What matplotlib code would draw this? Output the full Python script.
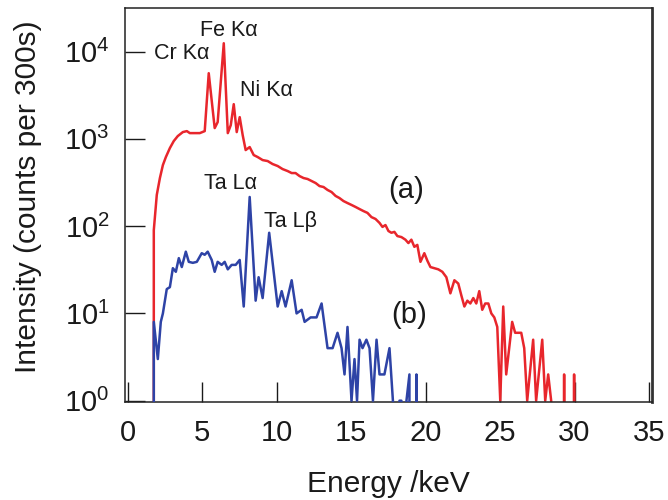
import matplotlib
matplotlib.use("Agg")
import matplotlib.pyplot as plt
from matplotlib.ticker import FixedLocator, NullLocator, LogFormatterSciNotation

plt.rcParams['font.family'] = ['Liberation Sans', 'DejaVu Sans']
plt.rcParams['mathtext.default'] = 'regular'

# (a) spectrum, energy in keV and counts per 300 s
red_energy = [1.54, 1.74, 1.94, 2.15, 2.35, 2.55, 2.82, 3.08, 3.35, 3.69, 3.96, 4.16, 4.49, 4.83,
              5.16, 5.43, 5.83, 6.03, 6.44, 6.71, 6.91, 7.11, 7.31, 7.51, 7.71, 7.91, 8.18, 8.45,
              8.72, 9.05, 9.39, 9.72, 10.06, 10.39, 10.73, 11.00, 11.26, 11.53, 11.80, 12.07, 12.34,
              12.61, 12.87, 13.14, 13.41, 13.68, 13.95, 14.21, 14.48, 14.75, 15.02, 15.29, 15.56,
              15.82, 16.09, 16.36, 16.63, 16.90, 17.10, 17.30, 17.50, 17.70, 17.90, 18.10, 18.37,
              18.64, 18.84, 19.04, 19.24, 19.44, 19.65, 19.91, 20.12, 20.32, 20.58, 20.85, 21.12,
              21.39, 21.66, 21.93, 22.19, 22.40, 22.60, 22.80, 23.00, 23.20, 23.40, 23.60, 23.80,
              24.00, 24.21, 24.41, 24.61, 24.81, 25.01, 25.21, 25.41, 25.81, 26.01, 26.22, 26.42,
              26.62, 26.82, 27.22, 27.42, 27.83, 28.03, 28.23, 28.43, 28.63, 29.10, 29.30, 29.50,
              29.77, 29.97, 30.17]
red_counts = [0, 90, 228, 356, 501, 619, 785, 944, 1077, 1197, 1228, 1165, 1165, 1165,
              1228, 5660, 1330, 1557, 12480, 1165, 1439, 2500, 1197, 1775, 1105, 745, 806, 653,
              619, 572, 557, 515, 489, 451, 428, 406, 406, 375, 356, 347, 329,
              312, 288, 281, 260, 246, 222, 210, 194, 184, 175, 166, 157,
              149, 142, 127, 121, 109, 98, 103, 88, 84, 86, 77, 75,
              70, 64, 70, 58, 61, 39, 49, 40, 34, 33, 32, 30,
              26, 17, 24, 22, 16, 12, 14, 13, 15, 13, 18, 11,
              13, 13, 10, 9, 7, 1, 12, 2, 8, 6, 6, 6,
              4, 1, 5, 1, 5, 1, 2, 1, 0, 0, 2, 0,
              0, 2, 0]

# (b) spectrum
blue_energy = [1.61, 1.74, 2.01, 2.21, 2.35, 2.61, 2.82, 3.02, 3.22, 3.42, 3.62, 3.89, 4.09, 4.36,
               4.63, 4.96, 5.16, 5.36, 5.63, 5.83, 6.03, 6.30, 6.50, 6.71, 6.97, 7.24, 7.51, 7.78,
               8.18, 8.58, 8.78, 9.05, 9.49, 10.06, 10.33, 10.59, 11.00, 11.33, 11.67, 11.87, 12.27,
               12.67, 13.01, 13.41, 13.75, 14.08, 14.35, 14.55, 14.75, 15.02, 15.22, 15.39, 15.56,
               15.76, 16.02, 16.23, 16.46, 16.70, 16.90, 17.23, 17.57, 17.80, 18.00, 18.24, 18.37,
               18.55, 18.71, 18.91, 19.11, 19.38, 19.58]
blue_counts = [0, 8, 3, 8, 10, 19, 20, 33, 30, 43, 34, 51, 39, 38,
               39, 49, 47, 51, 41, 30, 39, 36, 39, 32, 36, 36, 41, 12,
               216, 14, 26, 15, 84, 12, 18, 12, 24, 10, 11, 8, 9,
               9, 13, 4, 4, 6, 4, 2, 7, 1, 3, 1, 5,
               4, 5, 4, 1, 5, 2, 2, 4, 1, 0, 1, 1,
               0, 1, 2, 0, 2, 0]

# peak labels: text, energy, counts
peak_labels = [("Cr K\u03b1", 3.62, 9590), ("Fe K\u03b1", 6.77, 17580), ("Ni K\u03b1", 9.32, 3615),
               ("Ta L\u03b1", 6.91, 312), ("Ta L\u03b2", 10.93, 112)]
curve_labels = [("(a)", 18.71, 260), ("(b)", 18.91, 9.6)]

x_ticks = [0, 5, 10, 15, 20, 25, 30, 35]
y_ticks = [1, 10, 100, 1000, 10000]


def main():
    fig = plt.figure(figsize=(6.68, 5.0), dpi=100)
    ax = fig.add_axes([0.187, 0.196, 0.789, 0.788])

    ax.plot(red_energy, red_counts, color='#e8262c', lw=1.8, zorder=2)
    ax.plot(blue_energy, blue_counts, color='#2e43a6', lw=1.8, zorder=3)
    ax.set_yscale('log')
    ax.set_xlim(-0.2, 35.2)
    ax.set_ylim(10 ** -0.015, 10 ** 4.5)

    ax.xaxis.set_major_locator(FixedLocator(x_ticks))
    ax.yaxis.set_major_locator(FixedLocator(y_ticks))
    ax.yaxis.set_major_formatter(LogFormatterSciNotation())
    ax.xaxis.set_minor_locator(NullLocator())
    ax.yaxis.set_minor_locator(NullLocator())
    ax.tick_params(direction='in', length=14.5, width=1.0, labelsize=21, colors='#1a1a1a')
    ax.tick_params(axis='x', pad=12)
    ax.tick_params(axis='y', pad=11)
    for side in ['left', 'bottom', 'top']:
        ax.spines[side].set_linewidth(1.1)
        ax.spines[side].set_color('#222222')
    ax.spines['right'].set_linewidth(2.0)
    ax.spines['right'].set_color('#333333')

    for txt, x, y in peak_labels:
        ax.text(x, y, txt, fontsize=15.5, ha='center', va='center', color='#1a1a1a')
    for txt, x, y in curve_labels:
        ax.text(x, y, txt, fontsize=21, ha='center', va='center', color='#1a1a1a')

    ax.set_xlabel('Energy /keV', fontsize=21.5, color='#1a1a1a')
    ax.set_ylabel('Intensity (counts per 300s)', fontsize=21.5, color='#1a1a1a')
    ax.xaxis.set_label_coords(0.5, -0.172)
    ax.yaxis.set_label_coords(-0.157, 0.52)

    fig.savefig('out.png', dpi=100)
    plt.close(fig)


if __name__ == "__main__":
    main()
